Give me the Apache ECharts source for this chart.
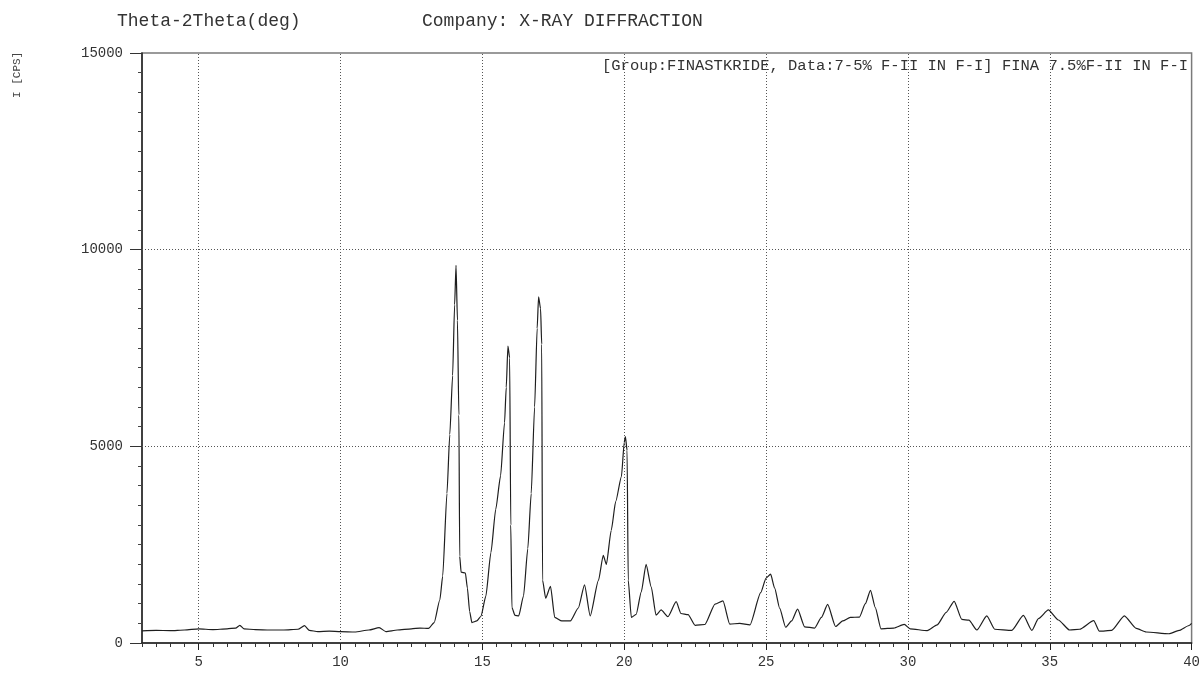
<!DOCTYPE html>
<html>
<head>
<meta charset="utf-8">
<script src="https://cdn.jsdelivr.net/npm/echarts@6/dist/echarts.min.js"></script>
<style>
html,body{margin:0;padding:0;background:#fff;}
#chart{width:1203px;height:678px;}
</style>
</head>
<body>
<div id="chart"></div>
<script>
// 2-theta angles (deg) and intensities (CPS)
var twoTheta = [
  3.0, 3.5, 4.0, 4.5, 5.0, 5.5, 6.0, 6.3, 6.45, 6.6, 7.0, 7.5, 8.0, 8.5, 8.73, 8.9, 9.2, 9.6, 10.0, 10.5,
  11.0, 11.36, 11.6, 12.0, 12.5, 12.8, 13.1, 13.3, 13.5, 13.6, 13.75, 13.85, 13.95, 14.02, 14.07, 14.12, 14.17, 14.2, 14.25, 14.4,
  14.47, 14.55, 14.63, 14.8, 14.95, 15.12, 15.3, 15.47, 15.64, 15.78, 15.84, 15.9, 15.96, 16.0, 16.04, 16.15, 16.28, 16.45, 16.6, 16.72,
  16.84, 16.93, 16.98, 17.05, 17.09, 17.12, 17.23, 17.4, 17.55, 17.8, 18.1, 18.38, 18.6, 18.8, 19.09, 19.26, 19.37, 19.54, 19.7, 19.9,
  20.0, 20.04, 20.1, 20.14, 20.25, 20.42, 20.6, 20.77, 20.95, 21.12, 21.3, 21.54, 21.83, 22.0, 22.25, 22.5, 22.84, 23.2, 23.48, 23.72,
  24.07, 24.43, 24.81, 25.0, 25.16, 25.3, 25.48, 25.69, 25.9, 26.11, 26.36, 26.71, 26.95, 27.17, 27.45, 27.7, 27.97, 28.29, 28.5, 28.68,
  28.85, 29.05, 29.5, 29.87, 30.08, 30.68, 31.03, 31.35, 31.63, 31.9, 32.15, 32.43, 32.78, 33.06, 33.66, 34.07, 34.37, 34.6, 34.95, 35.3,
  35.7, 36.05, 36.55, 36.75, 37.18, 37.63, 38.05, 38.4, 39.2, 39.56, 39.91, 40.0
];
var intensity = [
  310, 320, 315, 330, 360, 340, 360, 380, 450, 360, 340, 330, 330, 350, 440, 320, 290, 300, 290, 280,
  330, 390, 290, 330, 360, 380, 370, 520, 1100, 1700, 3800, 5300, 6800, 8600, 9600, 8200, 5800, 2200, 1800, 1780,
  1400, 800, 520, 560, 680, 1190, 2300, 3400, 4250, 5600, 6500, 7550, 7250, 3000, 900, 700, 690, 1200, 2400, 3800,
  6000, 8000, 8800, 8500, 7600, 1600, 1140, 1440, 650, 560, 560, 890, 1480, 690, 1590, 2230, 2000, 2860, 3600, 4230,
  5100, 5250, 4900, 1600, 650, 730, 1300, 2000, 1430, 710, 840, 670, 1050, 750, 720, 450, 470, 990, 1070, 480,
  500, 460, 1280, 1650, 1750, 1400, 880, 400, 560, 860, 410, 380, 650, 980, 420, 560, 650, 660, 1000, 1340,
  900, 360, 380, 475, 360, 315, 460, 780, 1060, 600, 580, 330, 690, 350, 320, 700, 320, 620, 840, 585,
  330, 350, 570, 300, 320, 690, 370, 280, 235, 320, 445, 500
];
var xTickValues = [5, 10, 15, 20, 25, 30, 35, 40];
var xGridValues = [5, 10, 15, 20, 25, 30, 35];
var yTickValues = [0, 5000, 10000, 15000];
var yGridValues = [5000, 10000];

var headerLeft = 'Theta-2Theta(deg)';
var headerCompany = 'Company: X-RAY DIFFRACTION';
var legendText = '[Group:FINASTKRIDE, Data:7-5% F-II IN F-I] FINA 7.5%F-II IN F-I';
var yName = 'I [CPS]';

var seriesData = twoTheta.map(function (t, i) { return [t, intensity[i]]; });

var mono = '"Liberation Mono", "DejaVu Sans Mono", monospace';
var gridLineStyle = { color: '#555', width: 1, type: [1, 2] };
var markData = xGridValues.map(function (v) { return { xAxis: v }; })
  .concat(yGridValues.map(function (v) { return { yAxis: v }; }));

var chart = echarts.init(document.getElementById('chart'), null, { renderer: 'canvas' });
chart.setOption({
  backgroundColor: '#ffffff',
  animation: false,
  grid: {
    left: 142, right: 8, top: 53, bottom: 35,
    show: true, borderColor: '#7a7a7a', borderWidth: 1.5, backgroundColor: 'transparent'
  },
  xAxis: [{
    type: 'value', min: 3, max: 40, interval: 0.5,
    axisLine: { show: true, onZero: false, lineStyle: { color: '#222', width: 1.5 } },
    axisTick: { show: true, length: 4, lineStyle: { color: '#333', width: 1 } },
    axisLabel: { show: false },
    splitLine: { show: false }
  }, {
    type: 'value', min: 3, max: 40, position: 'bottom',
    axisLine: { show: false, onZero: false },
    axisTick: { show: true, length: 7, customValues: xTickValues, lineStyle: { color: '#222', width: 1 } },
    axisLabel: {
      show: true, margin: 12, color: '#333', fontFamily: mono, fontSize: 14,
      customValues: xTickValues
    },
    splitLine: { show: false }
  }],
  yAxis: {
    type: 'value', min: 0, max: 15000, interval: 5000,
    axisLine: { show: true, onZero: false, lineStyle: { color: '#222', width: 1.5 } },
    axisTick: { show: true, length: 12, lineStyle: { color: '#333', width: 1 } },
    minorTick: { show: true, splitNumber: 10, length: 4, lineStyle: { color: '#444', width: 1 } },
    axisLabel: {
      margin: 19, color: '#333', fontFamily: mono, fontSize: 14,
      formatter: function (v) { return yTickValues.indexOf(v) >= 0 ? String(v) : ''; }
    },
    splitLine: { show: false }
  },
  graphic: [
    { type: 'text', left: 117, top: 12, style: { text: headerLeft, font: '18px ' + mono, fill: '#333' } },
    { type: 'text', left: 422, top: 12, style: { text: headerCompany, font: '18px ' + mono, fill: '#333' } },
    { type: 'text', left: 602, top: 58, style: { text: legendText, font: '15.5px ' + mono, fill: '#333' } },
    { type: 'text', x: 12, y: 98, rotation: Math.PI / 2, style: { text: yName, font: '11px ' + mono, fill: '#444' } }
  ],
  series: [{
    type: 'line',
    xAxisIndex: 0,
    data: seriesData,
    showSymbol: false,
    symbol: 'none',
    smooth: 0.2,
    smoothMonotone: 'x',
    lineStyle: { color: '#1e1e1e', width: 1.2 },
    z: 5,
    markLine: {
      silent: true,
      symbol: ['none', 'none'],
      label: { show: false },
      lineStyle: gridLineStyle,
      emphasis: { disabled: true },
      animation: false,
      data: markData
    }
  }]
});
</script>
</body>
</html>
